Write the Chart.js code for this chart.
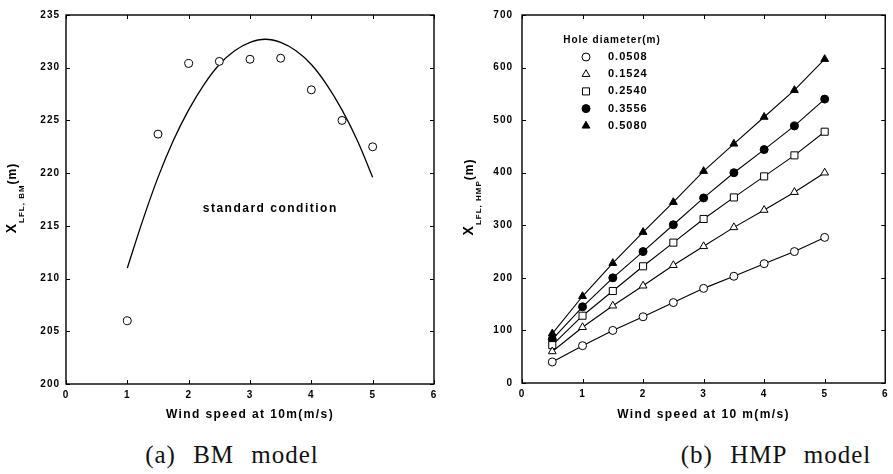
<!DOCTYPE html>
<html><head><meta charset="utf-8">
<script src="https://cdn.jsdelivr.net/npm/chart.js@4.4.1/dist/chart.umd.min.js"></script>
<style>
body{margin:0;background:#fff;width:893px;height:474px;overflow:hidden;position:relative}
canvas{position:absolute;top:0}
#c1{left:0}
#c2{left:452px}
.cap{position:absolute;top:441px;line-height:28px;font-family:"Liberation Serif","DejaVu Serif",serif;font-size:25px;letter-spacing:1px;word-spacing:10px;color:#111;white-space:nowrap;transform:translateX(-50%)}
</style></head>
<body>
<canvas id="c1" width="452" height="430"></canvas>
<canvas id="c2" width="441" height="430"></canvas>
<div class="cap" style="left:232px">(a) BM model</div>
<div class="cap" style="left:776px">(b) HMP model</div>
<script>
// ---- data: (a) BM model ----
const windSpeedBM = [1, 1.5, 2, 2.5, 3, 3.5, 4, 4.5, 5];
const xlflBM = [206.0, 223.7, 230.4, 230.6, 230.8, 230.9, 227.9, 225.0, 222.5];
const fitSpeed = [1, 1.25, 1.5, 1.75, 2, 2.25, 2.5, 2.75, 3, 3.25, 3.5, 3.75, 4, 4.25, 4.5, 4.75, 5];
const fitBM = [211.0, 215.5, 219.6, 223.1, 226.0, 228.4, 230.3, 231.6, 232.4, 232.7, 232.4, 231.6, 230.3, 228.4, 226.0, 223.1, 219.6];
const annotationBM = 'standard condition';

// ---- data: (b) HMP model ----
const windSpeedHMP = [0.5, 1, 1.5, 2, 2.5, 3, 3.5, 4, 4.5, 5];
const holeDiameters = ['0.0508', '0.1524', '0.2540', '0.3556', '0.5080'];
const hmpD0508 = [40, 71, 100, 126, 153, 180, 203, 227, 250, 277];
const hmpD1524 = [60, 106, 147, 185, 224, 260, 296, 329, 363, 400];
const hmpD2540 = [72, 128, 175, 222, 267, 312, 353, 393, 433, 478];
const hmpD3556 = [83, 145, 200, 250, 301, 352, 400, 444, 489, 540];
const hmpD5080 = [94, 165, 228, 287, 344, 403, 455, 506, 557, 616];

// ---- axis ranges / ticks ----
const xTickMin = 0, xTickMax = 6, xTickStep = 1;
const yBMMin = 200, yBMMax = 235, yBMStep = 5;
const yHMPMin = 0, yHMPMax = 700, yHMPStep = 100;
const xTitleBM = 'Wind speed at 10m(m/s)';
const xTitleHMP = 'Wind speed at 10 m(m/s)';
const legendTitle = 'Hole diameter(m)';

const FONT = '"Liberation Sans", Arial, sans-serif';
const zip = (xs, ys) => xs.map((x, i) => ({x, y: ys[i]}));

function drawMarker(ctx, style, r, x, y, filled) {
  ctx.save();
  ctx.fillStyle = filled ? '#000' : '#fff';
  ctx.strokeStyle = '#000';
  ctx.lineWidth = 1;
  if (Chart.helpers && Chart.helpers.drawPoint) {
    Chart.helpers.drawPoint(ctx, {pointStyle: style, rotation: 0, radius: r, borderWidth: 1}, x, y);
  } else {
    ctx.beginPath();
    ctx.arc(x, y, r, 0, Math.PI * 2);
    ctx.fill(); ctx.stroke();
  }
  ctx.restore();
}

function makeFrame(cfg) {
  return {
    id: 'frame' + cfg.key,
    beforeDraw(chart) { chart.ctx.letterSpacing = '1px'; },
    afterDatasetsDraw(chart) {
      const {ctx, chartArea: a, scales: {x, y}} = chart;
      ctx.save();
      ctx.strokeStyle = '#000';
      ctx.lineWidth = 1.4;
      ctx.strokeRect(a.left, a.top, a.right - a.left, a.bottom - a.top);
      ctx.lineWidth = 1;
      ctx.beginPath();
      x.ticks.forEach(t => {
        const p = Math.round(x.getPixelForValue(t.value)) + 0.5;
        ctx.moveTo(p, a.bottom); ctx.lineTo(p, a.bottom - 4);
        ctx.moveTo(p, a.top); ctx.lineTo(p, a.top + 4);
      });
      y.ticks.forEach(t => {
        const p = Math.round(y.getPixelForValue(t.value)) + 0.5;
        ctx.moveTo(a.left, p); ctx.lineTo(a.left + 4, p);
        ctx.moveTo(a.right, p); ctx.lineTo(a.right - 4, p);
      });
      ctx.stroke();
      ctx.restore();
    },
    afterDraw(chart) {
      const {ctx, chartArea: a, scales: {x, y}} = chart;
      ctx.save();
      ctx.fillStyle = '#000';
      // x title
      ctx.letterSpacing = '1.4px';
      ctx.font = 'bold 12px ' + FONT;
      ctx.textAlign = 'center';
      ctx.textBaseline = 'middle';
      ctx.fillText(cfg.xTitle, (a.left + a.right) / 2, cfg.xTitleY);
      // y title (rotated, with subscript)
      ctx.save();
      ctx.letterSpacing = '1px';
      ctx.translate(cfg.yTitleX, cfg.yTitleY);
      ctx.rotate(-Math.PI / 2);
      ctx.textAlign = 'left';
      ctx.textBaseline = 'alphabetic';
      const parts = [
        {t: 'X', f: 'bold 14px ' + FONT, dy: 0},
        {t: cfg.sub, f: 'bold 8px ' + FONT, dy: 8},
        {t: '(m)', f: 'bold 12px ' + FONT, dy: 0}
      ];
      let total = 0;
      parts.forEach(p => { ctx.font = p.f; p.w = ctx.measureText(p.t).width; total += p.w; });
      let x0 = -total / 2;
      parts.forEach(p => { ctx.font = p.f; ctx.fillText(p.t, x0, p.dy); x0 += p.w; });
      ctx.restore();
      // annotation
      if (cfg.note) {
        ctx.letterSpacing = '1.5px';
        ctx.font = 'bold 12px ' + FONT;
        ctx.textAlign = 'center';
        ctx.textBaseline = 'middle';
        ctx.fillText(cfg.note.text, x.getPixelForValue(cfg.note.x), y.getPixelForValue(cfg.note.y));
      }
      // legend
      if (cfg.legend) {
        const L = cfg.legend;
        ctx.letterSpacing = '1px';
        ctx.font = 'bold 10px ' + FONT;
        ctx.textAlign = 'center';
        ctx.textBaseline = 'middle';
        ctx.fillText(L.title, a.left + L.titleDx, L.titleY);
        ctx.font = 'bold 11px ' + FONT;
        ctx.textAlign = 'left';
        L.items.forEach((it, i) => {
          const yy = L.rowY0 + i * L.rowGap;
          drawMarker(ctx, it.style, it.r, a.left + L.markerDx, yy, it.filled);
          ctx.fillStyle = '#000';
          ctx.fillText(it.label, a.left + L.labelDx, yy);
        });
      }
      ctx.restore();
    }
  };
}

function baseScales(yMin, yMax, yStep, yW, xH, yPad) {
  return {
    x: {
      type: 'linear', min: xTickMin, max: xTickMax,
      grid: {display: false, drawTicks: false}, border: {display: false},
      ticks: {stepSize: xTickStep, padding: 5, color: '#000', font: {family: FONT, size: 10, weight: 'bold'}},
      afterFit(s) { s.height = xH; }
    },
    y: {
      type: 'linear', min: yMin, max: yMax,
      grid: {display: false, drawTicks: false}, border: {display: false},
      ticks: {stepSize: yStep, padding: yPad, color: '#000', font: {family: FONT, size: 10, weight: 'bold'}},
      afterFit(s) { s.width = yW; }
    }
  };
}

// ---- chart (a) ----
new Chart(document.getElementById('c1'), {
  type: 'scatter',
  data: {
    datasets: [
      {data: zip(windSpeedBM, xlflBM), showLine: false, pointStyle: 'circle', pointRadius: 4,
       pointBackgroundColor: '#fff', pointBorderColor: '#000', pointBorderWidth: 1},
      {data: zip(fitSpeed, fitBM), showLine: true, pointRadius: 0, borderColor: '#000', borderWidth: 1.3,
       tension: 0.4, fill: false}
    ]
  },
  options: {
    responsive: false, animation: false,
    layout: {padding: {left: 0, right: 18, top: 15, bottom: 0}},
    plugins: {legend: {display: false}, tooltip: {enabled: false}},
    scales: baseScales(yBMMin, yBMMax, yBMStep, 66, 46, 6)
  },
  plugins: [makeFrame({key: 'a', xTitle: xTitleBM, xTitleY: 415, yTitleX: 16, yTitleY: 198, sub: 'LFL, BM',
    note: {text: annotationBM, x: 3.33, y: 216.6}})]
});

// ---- chart (b) ----
const hmpSeries = [hmpD0508, hmpD1524, hmpD2540, hmpD3556, hmpD5080];
const hmpStyles = [
  {style: 'circle', r: 4, filled: false},
  {style: 'triangle', r: 4.5, filled: false},
  {style: 'rect', r: 5, filled: false},
  {style: 'circle', r: 4, filled: true},
  {style: 'triangle', r: 4.5, filled: true}
];
new Chart(document.getElementById('c2'), {
  type: 'scatter',
  data: {
    datasets: hmpSeries.map((s, i) => ({
      label: holeDiameters[i],
      data: zip(windSpeedHMP, s), showLine: true, borderColor: '#000', borderWidth: 1.1, tension: 0,
      pointStyle: hmpStyles[i].style, pointRadius: hmpStyles[i].r,
      pointBackgroundColor: hmpStyles[i].filled ? '#000' : '#fff', pointBorderColor: '#000', pointBorderWidth: 1
    }))
  },
  options: {
    responsive: false, animation: false,
    layout: {padding: {left: 0, right: 4, top: 10, bottom: 0}},
    plugins: {legend: {display: false}, tooltip: {enabled: false}},
    scales: baseScales(yHMPMin, yHMPMax, yHMPStep, 70, 47, 9)
  },
  plugins: [makeFrame({key: 'b', xTitle: xTitleHMP, xTitleY: 415, yTitleX: 21, yTitleY: 197, sub: 'LFL, HMP',
    legend: {title: legendTitle, titleDx: 90, titleY: 40, markerDx: 64, labelDx: 86, rowY0: 57, rowGap: 17.2,
      items: holeDiameters.map((d, i) => ({label: d, ...hmpStyles[i]}))}})]
});
</script>
</body></html>
